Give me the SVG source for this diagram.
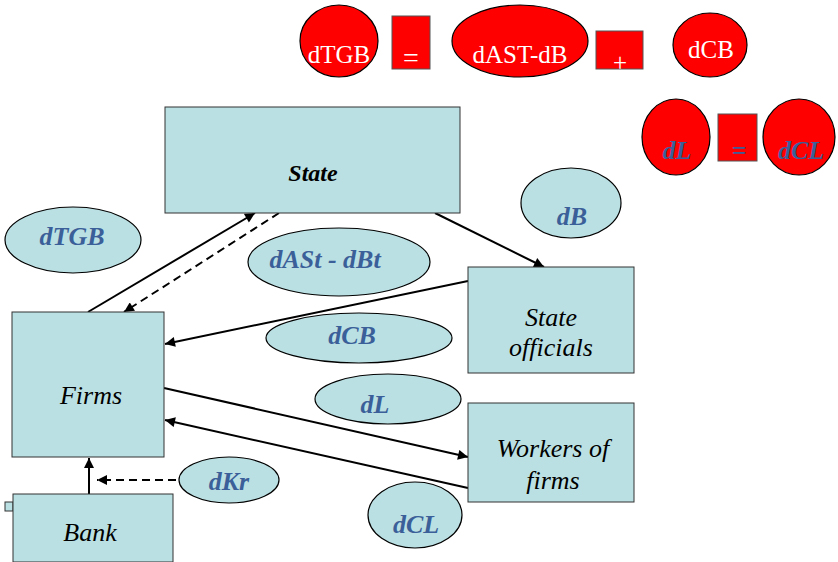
<svg xmlns="http://www.w3.org/2000/svg" width="838" height="562" viewBox="0 0 838 562">
  <defs>
    <style>
      .box { fill: #BBE0E3; stroke: #333; stroke-width: 1; }
      .oval { fill: #BBE0E3; stroke: #000; stroke-width: 1.2; }
      .red { fill: #FF0000; stroke: #000; stroke-width: 1.2; }
      .redbox { fill: #FF0000; stroke: #555; stroke-width: 1; }
      text { font-family: "Liberation Serif", "Times New Roman", Times, Tinos, "Noto Serif", "DejaVu Serif", FreeSerif, serif; }
      .lbl { font-style: italic; font-size: 26px; fill: #000; text-anchor: middle; }
      .title { font-style: italic; font-weight: bold; font-size: 24px; fill: #000; text-anchor: middle; }
      .flow { font-style: italic; font-weight: bold; font-size: 26px; fill: #3A5F99; text-anchor: middle; }
      .white { font-size: 25px; fill: #FFFFFF; text-anchor: middle; }
      .solid { stroke: #000; stroke-width: 2; fill: none; marker-end: url(#head); }
      .dash { stroke: #000; stroke-width: 2; fill: none; stroke-dasharray: 8 5; marker-end: url(#head); }
    </style>
    <marker id="head" viewBox="0 0 10 10" refX="10" refY="5" markerWidth="5.5" markerHeight="5" markerUnits="strokeWidth" orient="auto">
      <path d="M0,0 L10,5 L0,10 z" fill="#000"/>
    </marker>
  </defs>

  <!-- balance identities, top right -->
  <g id="identity-budget">
    <ellipse class="red" cx="339" cy="41" rx="39" ry="36"/>
    <text class="white" x="339" y="63">dTGB</text>
    <rect class="redbox" x="392" y="16" width="38" height="53"/>
    <text class="white" x="411" y="67" style="font-size:28px">=</text>
    <ellipse class="red" cx="520" cy="41" rx="68" ry="36"/>
    <text class="white" x="520" y="63">dAST-dB</text>
    <rect class="redbox" x="596" y="31" width="47" height="38"/>
    <text class="white" x="620" y="71">+</text>
    <ellipse class="red" cx="710" cy="45" rx="37" ry="32"/>
    <text class="white" x="711" y="58">dCB</text>
  </g>
  <g id="identity-labour">
    <ellipse class="red" cx="676" cy="137" rx="34" ry="38"/>
    <text class="flow" x="677" y="159">dL</text>
    <rect class="redbox" x="718" y="114" width="39" height="47"/>
    <text class="flow" x="739" y="159">=</text>
    <ellipse class="red" cx="799" cy="137" rx="36" ry="38"/>
    <text class="flow" x="801" y="159">dCL</text>
  </g>

  <!-- connectors -->
  <g id="connectors">
    <line class="solid" x1="88" y1="312" x2="255" y2="213"/>
    <line class="dash" x1="279" y1="213" x2="124" y2="312"/>
    <line class="solid" x1="435" y1="213" x2="544" y2="267"/>
    <line class="solid" x1="468" y1="281" x2="165" y2="344"/>
    <line class="solid" x1="164" y1="388" x2="468" y2="457"/>
    <line class="solid" x1="468" y1="488" x2="165" y2="420"/>
    <line class="solid" x1="89" y1="494" x2="89" y2="458"/>
    <line class="dash" x1="176" y1="480" x2="97" y2="480"/>
  </g>

  <!-- agents -->
  <g id="state">
    <rect class="box" x="165" y="107" width="295" height="106"/>
    <text class="title" x="313" y="181">State</text>
  </g>
  <g id="firms">
    <rect class="box" x="12" y="312" width="152" height="145"/>
    <text class="lbl" x="91" y="404">Firms</text>
  </g>
  <g id="state-officials">
    <rect class="box" x="468" y="267" width="166" height="106"/>
    <text class="lbl" x="551" y="326">State</text>
    <text class="lbl" x="551" y="356">officials</text>
  </g>
  <g id="workers">
    <rect class="box" x="468" y="403" width="166" height="99"/>
    <text class="lbl" x="553" y="457">Workers of</text>
    <text class="lbl" x="553" y="489">firms</text>
  </g>
  <g id="bank">
    <rect class="box" x="5" y="502" width="8" height="9"/>
    <rect class="box" x="13" y="494" width="160" height="68"/>
    <text class="lbl" x="90" y="541">Bank</text>
  </g>

  <!-- flow labels -->
  <g id="flow-dTGB">
    <ellipse class="oval" cx="73" cy="240" rx="68" ry="33"/>
    <text class="flow" x="72" y="245">dTGB</text>
  </g>
  <g id="flow-dASt-dBt">
    <ellipse class="oval" cx="339" cy="262" rx="91" ry="34"/>
    <text class="flow" x="325" y="268">dASt - dBt</text>
  </g>
  <g id="flow-dB">
    <ellipse class="oval" cx="571" cy="203" rx="50" ry="35"/>
    <text class="flow" x="572" y="225">dB</text>
  </g>
  <g id="flow-dCB">
    <ellipse class="oval" cx="359" cy="338" rx="93" ry="25"/>
    <text class="flow" x="352" y="344">dCB</text>
  </g>
  <g id="flow-dL">
    <ellipse class="oval" cx="388" cy="399" rx="73" ry="25"/>
    <text class="flow" x="375" y="413">dL</text>
  </g>
  <g id="flow-dKr">
    <ellipse class="oval" cx="229" cy="480" rx="50" ry="23"/>
    <text class="flow" x="229" y="490">dKr</text>
  </g>
  <g id="flow-dCL">
    <ellipse class="oval" cx="415" cy="515" rx="47" ry="33"/>
    <text class="flow" x="416" y="533">dCL</text>
  </g>
</svg>
